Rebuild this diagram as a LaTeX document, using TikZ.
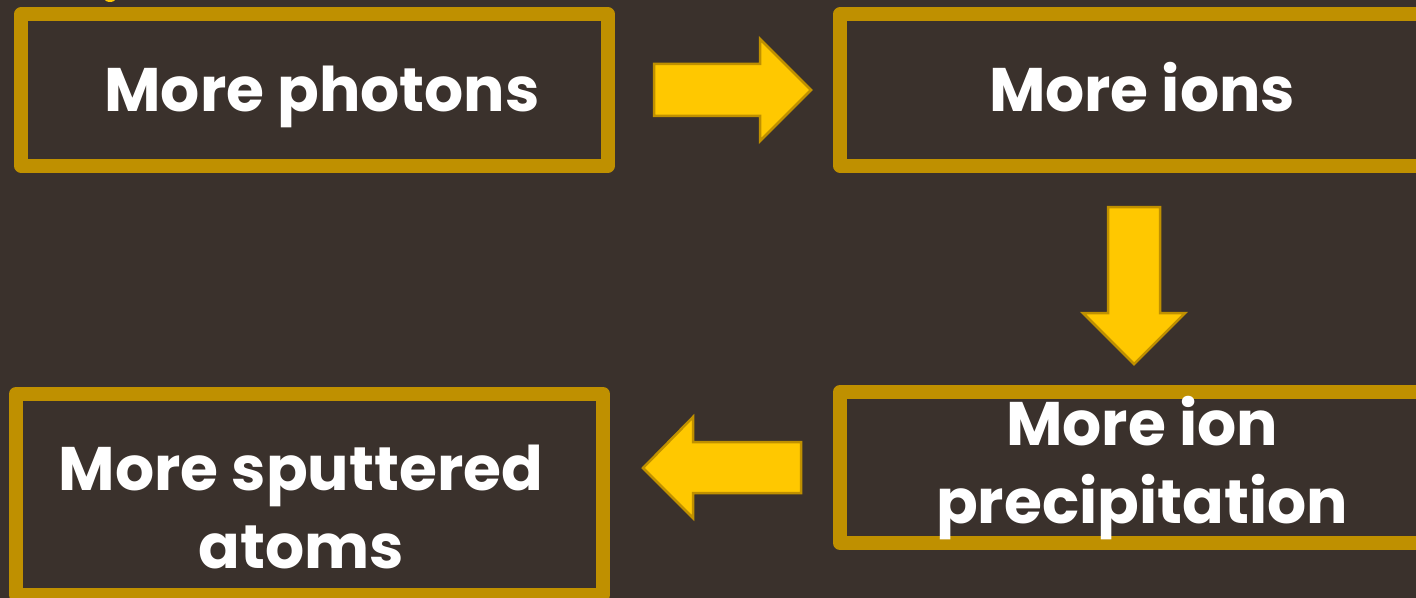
\documentclass[tikz,border=0pt]{standalone}
\usepackage{fontspec}
\setmainfont{Poppins}
\usepackage{tikz}
\usepackage{xcolor}
\usetikzlibrary{positioning, calc}
\definecolor{bgBrown}{RGB}{58,49,44}
\definecolor{frameGold}{RGB}{191,144,0}
\definecolor{arrowYellow}{RGB}{255,200,0}
\tikzset{
    stepBox/.style={rectangle, draw=frameGold, line width=14*0.02cm, line join=round, inner sep=0pt},
    stepText/.style={text=white, font=\fontsize{35}{44}\selectfont\bfseries, align=center, inner sep=0pt},
    blockArrow/.style={fill=arrowYellow, draw=frameGold, line width=2.5*0.02cm, line join=miter}
}

\begin{document}
\begin{tikzpicture}[x=0.02cm, y=-0.02cm]
    % --- canvas ---
    \useasboundingbox (0,0) rectangle (1416,598);
    \clip (0,0) rectangle (1416,598);
    \fill[bgBrown] (0,0) rectangle (1416,598);
    \fill[arrowYellow] (110,-2) ellipse (6 and 4);
    % --- boxes ---
    \node[stepBox, minimum width=587*0.02cm, minimum height=151*0.02cm] (photons) at (314.5,90) {};
    \node[stepBox, minimum width=604*0.02cm, minimum height=151*0.02cm] (ions) at (1142,90) {};
    \node[stepBox, minimum width=604*0.02cm, minimum height=151*0.02cm] (precip) at (1142,467.5) {};
    \node[stepBox, minimum width=587*0.02cm, minimum height=201*0.02cm] (sputter) at (309.5,494.5) {};
    % --- texts ---
    \node[stepText] (photonsText) at (322,97) {More photons};
    \node[stepText] (ionsText) at (1142,87) {More ions};
    \node[stepText] (precipText) at (1142,468) {More ion\\precipitation};
    \node[stepText] (sputterText) at (301,507) {More sputtered\\atoms};
    % --- arrows ---
    \draw[blockArrow] (654,64) -- (760,64) -- (760,39) -- (811,90) -- (760,141) -- (760,116) -- (654,116) -- cycle;
    \draw[blockArrow] (1108,207) -- (1160,207) -- (1160,313) -- (1185,313) -- (1134,364) -- (1083,313) -- (1108,313) -- cycle;
    \draw[blockArrow] (801,442) -- (693,442) -- (693,417) -- (643,468) -- (693,518) -- (693,493) -- (801,493) -- cycle;
\end{tikzpicture}
\end{document}
